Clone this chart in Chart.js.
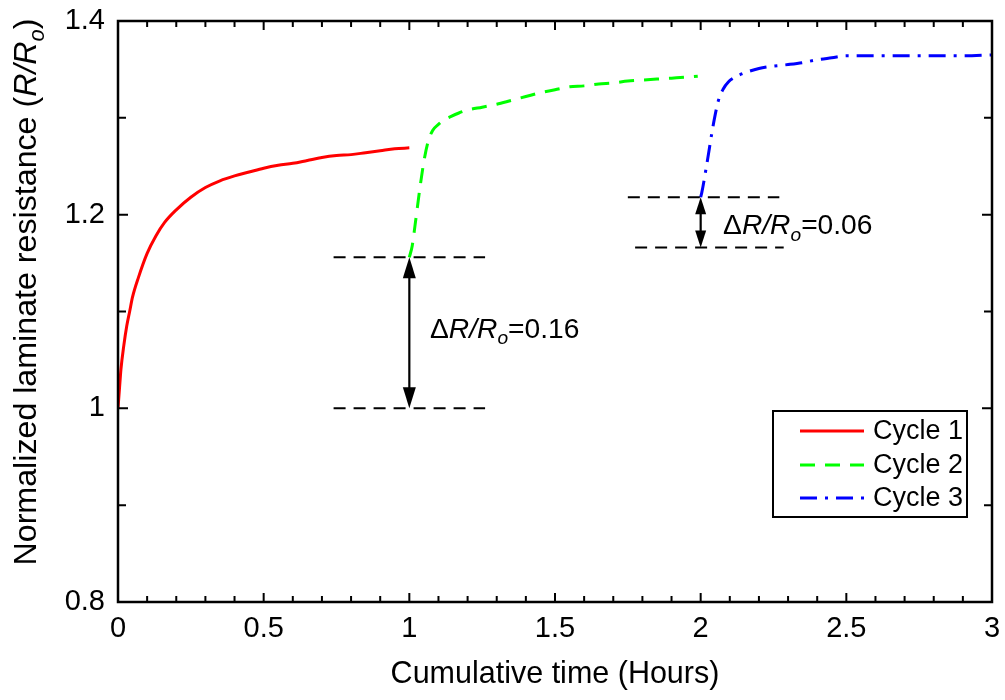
<!DOCTYPE html>
<html><head><meta charset="utf-8">
<script src="https://cdn.jsdelivr.net/npm/chart.js@4.4.0/dist/chart.umd.min.js"></script>
<style>html,body{margin:0;padding:0;background:#fff;}#wrap{width:1005px;height:700px;}</style>
</head><body><div id="wrap"><canvas id="c" width="1005" height="700"></canvas></div>
<script>
// ---------- data ----------
const seriesNames = ['Cycle 1', 'Cycle 2', 'Cycle 3'];
const cycle1Time  = [0, 0.005, 0.01, 0.02, 0.03, 0.04, 0.05, 0.07, 0.1, 0.13, 0.16, 0.2, 0.25, 0.3, 0.35, 0.4, 0.45, 0.5, 0.55, 0.6, 0.65, 0.7, 0.75, 0.8, 0.85, 0.9, 0.95, 1.0];
const cycle1Value = [1.000, 1.020, 1.040, 1.065, 1.085, 1.100, 1.115, 1.135, 1.160, 1.178, 1.192, 1.205, 1.218, 1.228, 1.235, 1.240, 1.244, 1.248, 1.251, 1.253, 1.256, 1.259, 1.261, 1.262, 1.264, 1.266, 1.268, 1.269];
const cycle2Time  = [1.0, 1.01, 1.02, 1.037, 1.05, 1.064, 1.08, 1.099, 1.12, 1.14, 1.17, 1.2, 1.25, 1.3, 1.35, 1.4, 1.45, 1.5, 1.55, 1.6, 1.65, 1.7, 1.75, 1.8, 1.85, 1.9, 1.95, 1.99];
const cycle2Value = [1.156, 1.168, 1.190, 1.229, 1.255, 1.275, 1.287, 1.293, 1.298, 1.301, 1.305, 1.308, 1.311, 1.314, 1.318, 1.322, 1.326, 1.329, 1.332, 1.333, 1.335, 1.336, 1.338, 1.339, 1.340, 1.341, 1.342, 1.343];
const cycle3Time  = [2.0, 2.004, 2.021, 2.044, 2.061, 2.078, 2.095, 2.112, 2.147, 2.2, 2.238, 2.3, 2.35, 2.4, 2.45, 2.5, 2.6, 2.7, 2.8, 2.9, 3.0];
const cycle3Value = [1.218, 1.223, 1.252, 1.294, 1.318, 1.330, 1.337, 1.341, 1.346, 1.351, 1.353, 1.355, 1.357, 1.360, 1.362, 1.364, 1.364, 1.364, 1.364, 1.364, 1.365];
const xTickValues = [0, 0.5, 1, 1.5, 2, 2.5, 3];
const xTickLabels = ['0', '0.5', '1', '1.5', '2', '2.5', '3'];
const yTickValues = [0.8, 1, 1.2, 1.4];
const yTickLabels = ['0.8', '1', '1.2', '1.4'];
// step annotations (data units)
const gap1Levels = [1.0, 1.156];
const gap1Time = 1.0;
const gap1LineSpans = [[0.74, 1.26], [0.74, 1.26]];
const gap1Delta = '0.16';
const gap2Levels = [1.166, 1.218];
const gap2Time = 2.0;
const gap2LineSpans = [[1.775, 2.285], [1.75, 2.27]];
const gap2Delta = '0.06';

// ---------- styles ----------
const FONT = '"Liberation Sans", Arial, Helvetica, sans-serif';
const colors = ['#ff0000', '#00ff00', '#0000ff'];
const dashes = [[], [15, 10], [17, 8, 3, 8]];

function toPoints(t, v) { return t.map((x, i) => ({ x: x, y: v[i] })); }
const seriesData = [toPoints(cycle1Time, cycle1Value), toPoints(cycle2Time, cycle2Value), toPoints(cycle3Time, cycle3Value)];

function drawRich(ctx, parts, x, y, size) {
  let cx = x;
  for (const p of parts) {
    const s = p.sub ? size * 0.68 : size;
    ctx.font = (p.italic ? 'italic ' : '') + s + 'px ' + FONT;
    ctx.fillText(p.t, cx, y + (p.sub ? size * 0.24 : 0));
    cx += ctx.measureText(p.t).width;
  }
  return cx - x;
}
function richWidth(ctx, parts, size) {
  let w = 0;
  for (const p of parts) {
    const s = p.sub ? size * 0.68 : size;
    ctx.font = (p.italic ? 'italic ' : '') + s + 'px ' + FONT;
    w += ctx.measureText(p.t).width;
  }
  return w;
}
function arrowHead(ctx, x, yTip, dir, len, half) {
  ctx.beginPath();
  ctx.moveTo(x, yTip);
  ctx.lineTo(x - half, yTip + dir * len);
  ctx.lineTo(x + half, yTip + dir * len);
  ctx.closePath();
  ctx.fill();
}

const decor = {
  id: 'decor',
  afterDatasetsDraw(chart) {
    const ctx = chart.ctx, a = chart.chartArea;
    const xs = chart.scales.x, ys = chart.scales.y;
    ctx.save();
    ctx.fillStyle = '#000'; ctx.strokeStyle = '#000';

    function gap(levels, t, spans, delta, labelX, labelY, headLen, headHalf) {
      ctx.save();
      ctx.lineWidth = 2; ctx.setLineDash([12, 8]);
      levels.forEach((lv, i) => {
        const py = ys.getPixelForValue(lv);
        ctx.beginPath();
        ctx.moveTo(xs.getPixelForValue(spans[i][0]), py);
        ctx.lineTo(xs.getPixelForValue(spans[i][1]), py);
        ctx.stroke();
      });
      ctx.setLineDash([]);
      const px = xs.getPixelForValue(t);
      const yLo = ys.getPixelForValue(levels[0]);
      const yHi = ys.getPixelForValue(levels[1]);
      ctx.lineWidth = 2.2;
      ctx.beginPath(); ctx.moveTo(px, yHi + headLen - 2); ctx.lineTo(px, yLo - headLen + 2); ctx.stroke();
      arrowHead(ctx, px, yHi, 1, headLen, headHalf);
      arrowHead(ctx, px, yLo, -1, headLen, headHalf);
      ctx.textBaseline = 'alphabetic'; ctx.textAlign = 'left';
      drawRich(ctx, [{ t: '\u0394' }, { t: 'R/R', italic: true }, { t: 'o', italic: true, sub: true }, { t: '=' + delta }],
        xs.getPixelForValue(labelX), ys.getPixelForValue(labelY), 28.2);
      ctx.restore();
    }
    gap(gap1Levels, gap1Time, gap1LineSpans, gap1Delta, 1.071, 1.073, 21, 6.5);
    gap(gap2Levels, gap2Time, gap2LineSpans, gap2Delta, 2.077, 1.180, 17, 5.5);

    // frame
    ctx.lineWidth = 2.5;
    ctx.strokeRect(a.left, a.top, a.right - a.left, a.bottom - a.top);

    // inward ticks (major + minor)
    ctx.lineWidth = 2;
    for (let i = 0; i <= 30; i++) {
      const v = i / 10, px = xs.getPixelForValue(v);
      const len = (i % 5 === 0) ? 9 : 6;
      ctx.beginPath();
      ctx.moveTo(px, a.bottom); ctx.lineTo(px, a.bottom - len);
      ctx.moveTo(px, a.top); ctx.lineTo(px, a.top + len);
      ctx.stroke();
    }
    for (let i = 0; i <= 6; i++) {
      const v = 0.8 + i / 10, py = ys.getPixelForValue(v);
      const len = (i % 2 === 0) ? 10 : 8;
      ctx.beginPath();
      ctx.moveTo(a.left, py); ctx.lineTo(a.left + len, py);
      ctx.moveTo(a.right, py); ctx.lineTo(a.right - len, py);
      ctx.stroke();
    }

    // legend
    const lw = 194, lh = 106;
    const lx = a.right - 25 - lw, ly = 411;
    ctx.fillStyle = '#fff';
    ctx.fillRect(lx, ly, lw, lh);
    ctx.strokeStyle = '#000'; ctx.lineWidth = 2;
    ctx.strokeRect(lx, ly, lw, lh);
    const rows = [431, 465, 498];
    chart.data.datasets.forEach((ds, i) => {
      const y = rows[i];
      ctx.strokeStyle = ds.borderColor; ctx.lineWidth = 3;
      ctx.setLineDash(ds.borderDash || []);
      ctx.beginPath(); ctx.moveTo(lx + 27, y); ctx.lineTo(lx + 91, y); ctx.stroke();
      ctx.setLineDash([]);
      ctx.fillStyle = '#000';
      ctx.font = '27px ' + FONT; ctx.textBaseline = 'middle'; ctx.textAlign = 'left';
      ctx.fillText(ds.label, lx + 100, y + 1);
    });

    // axis titles
    ctx.fillStyle = '#000';
    ctx.font = '30.5px ' + FONT; ctx.textAlign = 'center'; ctx.textBaseline = 'alphabetic';
    ctx.fillText('Cumulative time (Hours)', (a.left + a.right) / 2, 683);

    const yParts = [{ t: 'Normalized laminate resistance (' }, { t: 'R/R', italic: true }, { t: 'o', italic: true, sub: true }, { t: ')' }];
    const ySize = 32.2;
    const w = richWidth(ctx, yParts, ySize);
    ctx.save();
    ctx.translate(36, 292);
    ctx.rotate(-Math.PI / 2);
    ctx.textAlign = 'left'; ctx.textBaseline = 'alphabetic';
    drawRich(ctx, yParts, -w / 2, 0, ySize);
    ctx.restore();

    ctx.restore();
  }
};

new Chart(document.getElementById('c'), {
  type: 'line',
  data: {
    datasets: seriesNames.map((name, i) => ({
      label: name,
      data: seriesData[i],
      borderColor: colors[i],
      backgroundColor: colors[i],
      borderWidth: 3,
      borderDash: dashes[i],
      pointRadius: 0,
      cubicInterpolationMode: 'monotone',
      fill: false
    }))
  },
  options: {
    responsive: false,
    animation: false,
    devicePixelRatio: 1,
    layout: { padding: { top: 21, right: 13, left: 0, bottom: 0 } },
    plugins: { legend: { display: false }, tooltip: { enabled: false } },
    scales: {
      x: {
        type: 'linear', min: 0, max: 3,
        afterBuildTicks: s => { s.ticks = xTickValues.map(v => ({ value: v })); },
        afterFit: s => { s.height = 98; s.paddingLeft = 0; s.paddingRight = 0; },
        grid: { display: false, drawTicks: false },
        border: { display: false },
        ticks: {
          color: '#000', padding: 10, font: { family: FONT, size: 29 }, maxRotation: 0,
          callback: (v) => { const k = xTickValues.indexOf(v); return k >= 0 ? xTickLabels[k] : ''; }
        }
      },
      y: {
        type: 'linear', min: 0.8, max: 1.4,
        afterBuildTicks: s => { s.ticks = yTickValues.map(v => ({ value: v })); },
        afterFit: s => { s.width = 118; s.paddingTop = 0; s.paddingBottom = 0; },
        grid: { display: false, drawTicks: false },
        border: { display: false },
        ticks: {
          color: '#000', padding: 13, font: { family: FONT, size: 29 },
          callback: (v) => { const k = yTickValues.indexOf(v); return k >= 0 ? yTickLabels[k] : ''; }
        }
      }
    }
  },
  plugins: [decor]
});
</script>
</body></html>
